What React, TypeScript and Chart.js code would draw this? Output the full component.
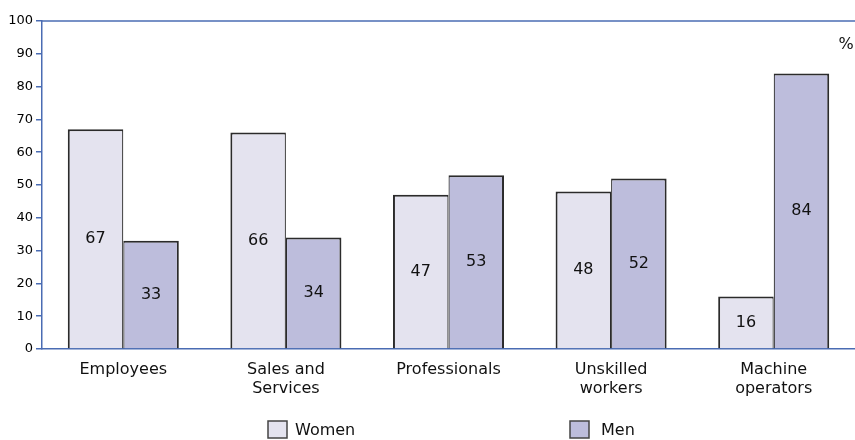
import React, { useEffect, useRef } from "react";
import { Chart, registerables } from "chart.js";

Chart.register(...registerables);

const categories: (string | string[])[] = [
  "Employees",
  ["Sales and", "Services"],
  "Professionals",
  ["Unskilled", "workers"],
  ["Machine", "operators"],
];
const women = [67, 66, 47, 48, 16];
const men = [33, 34, 53, 52, 84];
const yTicks = [0, 10, 20, 30, 40, 50, 60, 70, 80, 90, 100];
const seriesNames = ["Women", "Men"];
const unitLabel = "%";

const FONT = "'DejaVu Sans', sans-serif";
const AXIS_BLUE = "#4a6cb3";
const WOMEN_FILL = "#e4e3ef";
const MEN_FILL = "#bdbddc";
const BORDER = "#2b2b2b";

const extrasPlugin = {
  id: "extras",
  afterDatasetsDraw(chart: any) {
    const { ctx, chartArea } = chart;
    ctx.save();
    // top line at 100
    ctx.strokeStyle = AXIS_BLUE;
    ctx.lineWidth = 1.5;
    ctx.beginPath();
    ctx.moveTo(chartArea.left, chartArea.top);
    ctx.lineTo(chart.width, chartArea.top);
    ctx.stroke();

    // value labels
    ctx.fillStyle = "#111";
    ctx.font = `16px ${FONT}`;
    ctx.textAlign = "center";
    ctx.textBaseline = "middle";
    chart.data.datasets.forEach((ds: any, di: number) => {
      const meta = chart.getDatasetMeta(di);
      meta.data.forEach((bar: any, i: number) => {
        const y = (bar.y + bar.base) / 2;
        ctx.fillText(String(ds.data[i]), bar.x, y);
      });
    });

    // unit label
    ctx.font = `16px ${FONT}`;
    ctx.textAlign = "center";
    ctx.fillText(unitLabel, 846, 45);

    // legend
    const items = [
      { x: 268, tx: 295, fill: WOMEN_FILL, name: seriesNames[0] },
      { x: 570, tx: 601, fill: MEN_FILL, name: seriesNames[1] },
    ];
    items.forEach((it) => {
      ctx.fillStyle = it.fill;
      ctx.fillRect(it.x, 421, 19, 17);
      ctx.strokeStyle = "#444";
      ctx.lineWidth = 1.5;
      ctx.strokeRect(it.x, 421, 19, 17);
      ctx.fillStyle = "#111";
      ctx.textAlign = "left";
      ctx.textBaseline = "middle";
      ctx.font = `16px ${FONT}`;
      ctx.fillText(it.name, it.tx, 431);
    });
    ctx.restore();
  },
};

export default function App() {
  const ref = useRef<HTMLCanvasElement>(null);
  useEffect(() => {
    document.body.style.margin = "0";
    const chart = new Chart(ref.current!, {
      type: "bar",
      data: {
        labels: categories,
        datasets: [
          {
            label: seriesNames[0],
            data: women,
            backgroundColor: WOMEN_FILL,
            borderColor: BORDER,
            borderWidth: { top: 2, left: 2, right: 1.2, bottom: 0 },
            borderSkipped: false,
            inflateAmount: 0,
          },
          {
            label: seriesNames[1],
            data: men,
            backgroundColor: MEN_FILL,
            borderColor: BORDER,
            borderWidth: { top: 2, left: 1.2, right: 2, bottom: 0 },
            borderSkipped: false,
            inflateAmount: 0,
          },
        ],
      },
      options: {
        responsive: false,
        animation: false,
        layout: { padding: { top: 21, right: -7, left: 0, bottom: 0 } },
        plugins: { legend: { display: false }, tooltip: { enabled: false } },
        datasets: { bar: { categoryPercentage: 0.683, barPercentage: 1 } },
        scales: {
          x: {
            grid: { display: false, drawTicks: false },
            border: { color: AXIS_BLUE, width: 1.5 },
            ticks: {
              color: "#111",
              font: { family: FONT, size: 16, lineHeight: 1.22 },
              padding: 11,
              maxRotation: 0,
              autoSkip: false,
            },
            afterFit(scale: any) {
              scale.height = 91;
            },
          },
          y: {
            min: 0,
            max: 100,
            afterBuildTicks(scale: any) {
              scale.ticks = yTicks.map((v) => ({ value: v }));
            },
            grid: {
              drawOnChartArea: false,
              color: AXIS_BLUE,
              tickLength: 6,
              lineWidth: 1.5,
            },
            border: { color: AXIS_BLUE, width: 1.5 },
            ticks: {
              color: "#000",
              font: { family: FONT, size: 13 },
              padding: 3,
            },
            afterFit(scale: any) {
              scale.width = 42;
            },
          },
        },
      },
      plugins: [extrasPlugin],
    });
    return () => chart.destroy();
  }, []);
  return <canvas ref={ref} width={855} height={440} style={{ display: "block" }} />;
}
